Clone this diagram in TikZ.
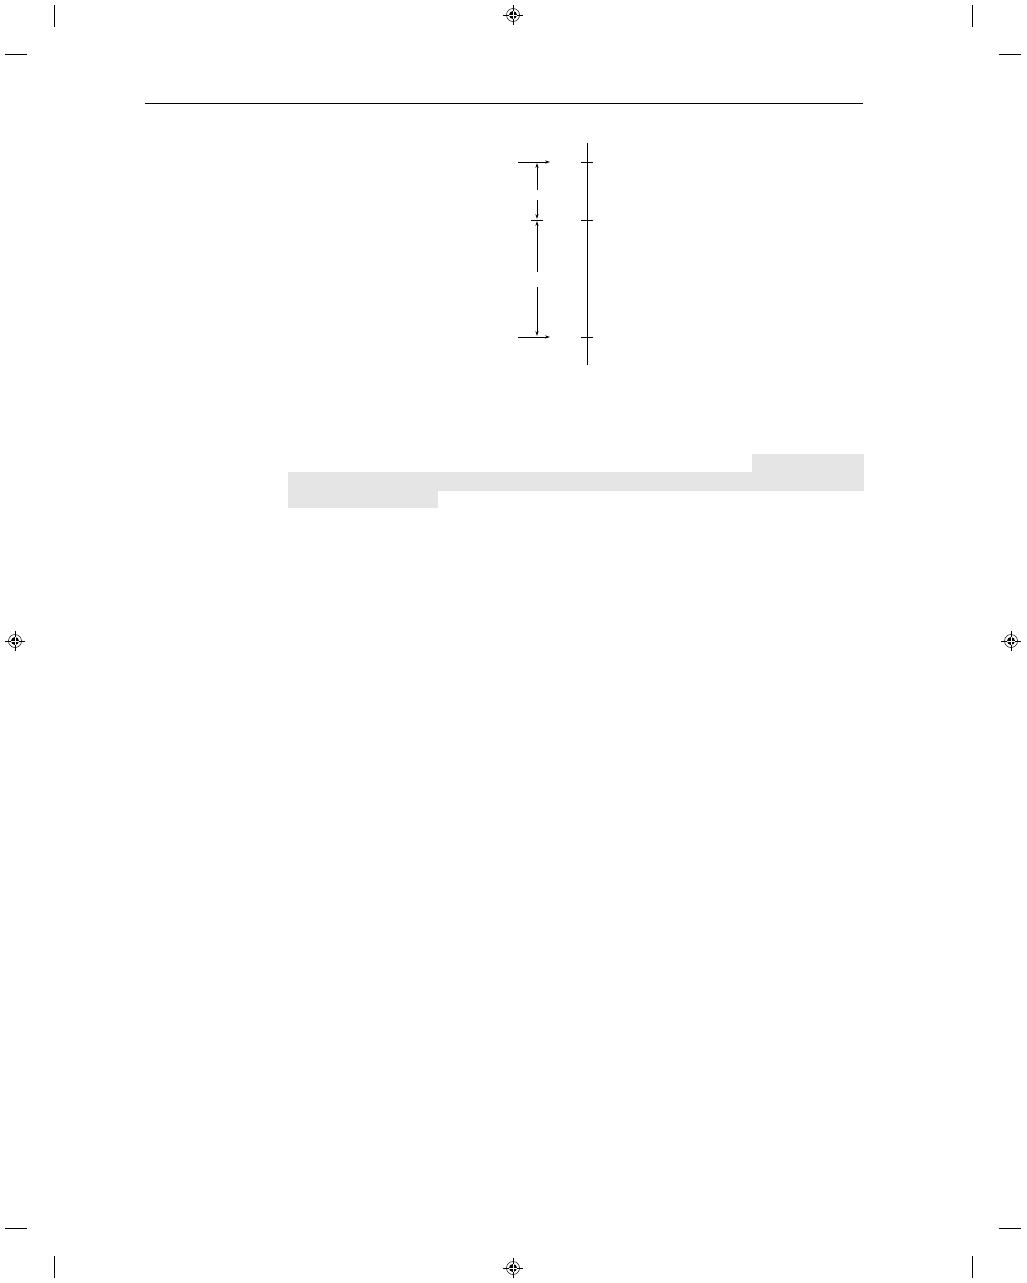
\documentclass[tikz,border=0pt]{standalone}
\usetikzlibrary{arrows.meta}
\begin{document}
\begin{tikzpicture}[x=1pt,y=-1pt,
  thin line/.style={line width=0.9pt,black},
  dimarrow/.style={line width=0.9pt,-{Stealth[length=5pt,width=3.2pt]}},
  graybox/.style={fill=black!10,draw=none},
  regmark/.pic={
    \draw[line width=0.5pt] (0,0) circle (6.5);
    \fill (0,0) circle (4);
    \draw[line width=0.5pt] (-10,0) -- (-4,0) (4,0) -- (10,0) (0,-10) -- (0,-4) (0,4) -- (0,10);
    \draw[white,line width=0.7pt] (-4,0) -- (4,0) (0,-4) -- (0,4);
  }]
\useasboundingbox (0,0) rectangle (1026,1283);
% crop marks
\draw[thin line] (54,5) -- (54,27) (5,54) -- (27,54);
\draw[thin line] (972,5) -- (972,27) (999,54) -- (1021,54);
\draw[thin line] (54,1256) -- (54,1278) (5,1228) -- (27,1228);
\draw[thin line] (972,1256) -- (972,1278) (999,1228) -- (1021,1228);
% registration marks
\pic at (513,15) {regmark};
\pic at (15,641) {regmark};
\pic at (1011,641) {regmark};
\pic at (513,1268) {regmark};
% header rule
\draw[line width=1pt] (145,103) -- (863,103);
% diagram
\coordinate (axTop) at (587,143);
\coordinate (axBot) at (587,365);
\draw[thin line] (axTop) -- (axBot);
\foreach \yy/\nm in {162/a,220/b,337/c}{
  \draw[thin line] (581,\yy) -- (593,\yy);
}
\coordinate (h1s) at (518,162); \coordinate (h1e) at (550,162);
\coordinate (h2s) at (518,337); \coordinate (h2e) at (550,337);
\draw[dimarrow] (h1s) -- (h1e);
\draw[dimarrow] (h2s) -- (h2e);
\draw[thin line] (531,220) -- (543,220);
\coordinate (d1s) at (537,190); \coordinate (d1e) at (537,163);
\coordinate (d2s) at (537,200); \coordinate (d2e) at (537,219);
\coordinate (d3s) at (537,272); \coordinate (d3e) at (537,221);
\coordinate (d4s) at (537,287); \coordinate (d4e) at (537,336);
\draw[dimarrow] (d1s) -- (d1e);
\draw[dimarrow] (d2s) -- (d2e);
\draw[dimarrow] (d3s) -- (d3e);
\draw[dimarrow] (d4s) -- (d4e);
% gray highlight
\fill[graybox] (752,454) rectangle (864,472);
\fill[graybox] (288,472) rectangle (864,490.5);
\fill[graybox] (288,490) rectangle (438,508);
\end{tikzpicture}
\end{document}
